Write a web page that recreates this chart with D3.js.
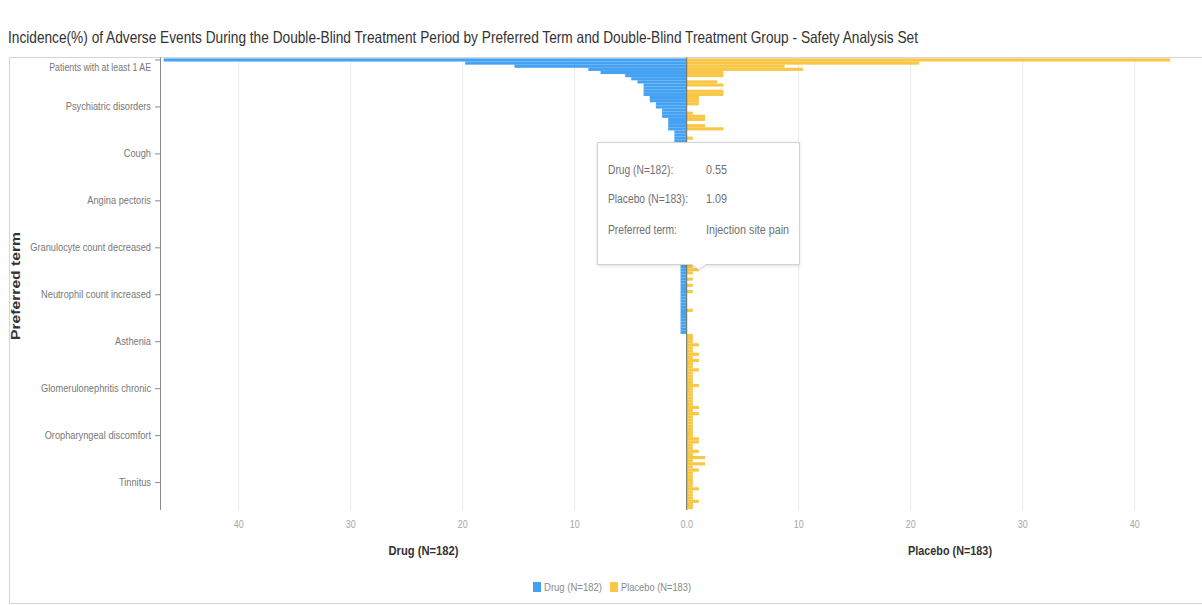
<!DOCTYPE html>
<html>
<head>
<meta charset="utf-8">
<script src="https://cdn.jsdelivr.net/npm/d3@7"></script>
<style>
  html, body { margin: 0; padding: 0; background: #fff; }
  svg { display: block; }
  text { font-family: "Liberation Sans Narrow", "Liberation Sans", Arial, sans-serif; }
</style>
</head>
<body>
<svg id="chart" width="1202" height="605"></svg>
<script>
// ---------------- DATA ----------------
const titleText = "Incidence(%) of Adverse Events During the Double-Blind Treatment Period by Preferred Term and Double-Blind Treatment Group - Safety Analysis Set";
const seriesNames = ["Drug (N=182)", "Placebo (N=183)"];

const categories = [
  "Patients with at least 1 AE","Upper respiratory tract infection","Anaemia","Hypertension","Diarrhoea",
  "Nasopharyngitis","Headache","Hyperkalaemia","Dizziness","Nausea",
  "Pyrexia","Peripheral swelling","Hypoglycaemia","Urinary tract infection","Back pain",
  "Psychiatric disorders","Insomnia","Constipation","Arthralgia","Fatigue",
  "Vomiting","Oedema peripheral","Pruritus","Rash","Abdominal pain",
  "Dyspepsia","Hyperuricaemia","Muscle spasms","Pain in extremity","Bronchitis",
  "Cough","Dyspnoea","Palpitations","Chest discomfort","Hypotension",
  "Blood creatinine increased","Proteinuria","Haematuria","Gastritis","Abdominal distension",
  "Decreased appetite","Influenza","Pneumonia","Sinusitis","Pharyngitis",
  "Angina pectoris","Atrial fibrillation","Tachycardia","Vertigo","Somnolence",
  "Anxiety","Depression","Myalgia","Neck pain","Musculoskeletal pain",
  "Hepatic function abnormal","Alanine aminotransferase increased","Aspartate aminotransferase increased","Gamma-glutamyltransferase increased","White blood cell count decreased",
  "Granulocyte count decreased","Platelet count decreased","Lymphocyte count decreased","Blood glucose increased","Blood pressure increased",
  "Contusion","Fall","Injection site pain","Injection site erythema","Dermatitis",
  "Eczema","Urticaria","Alopecia","Toothache","Stomatitis",
  "Neutrophil count increased","Haemoglobin decreased","Blood urea increased","Hyperlipidaemia","Hypercholesterolaemia",
  "Gout","Hyperphosphataemia","Hypocalcaemia","Renal impairment","Cystitis",
  "Conjunctivitis","Dry eye","Epistaxis","Rhinitis","Gastroenteritis",
  "Asthenia","Malaise","Chest pain","Feeling cold","Chills",
  "Thirst","Dry mouth","Flatulence","Haemorrhoids","Gastrooesophageal reflux disease",
  "Abdominal pain upper","Cholelithiasis","Fatty liver","Renal cyst","Nephrolithiasis",
  "Glomerulonephritis chronic","Pollakiuria","Nocturia","Dysuria","Prostatitis",
  "Herpes zoster","Oral herpes","Tinea pedis","Cellulitis","Paronychia",
  "Ligament sprain","Joint injury","Skin abrasion","Rhinorrhoea","Productive cough",
  "Oropharyngeal discomfort","Oropharyngeal pain","Sneezing","Asthma","Sleep disorder",
  "Restlessness","Hypoaesthesia","Paraesthesia","Tremor","Migraine",
  "Syncope","Cerebral infarction","Eye pruritus","Cataract","Ear pruritus",
  "Tinnitus","Hypoacusis","Sinus bradycardia","Ventricular extrasystoles","Supraventricular extrasystoles",
  "Arrhythmia","Varicose vein","Haematoma","Peripheral coldness"
];

const drugValues = [
  46.70, 19.78, 15.38, 8.79, 7.69, 5.49, 4.95, 4.40, 3.85, 3.85,
  3.85, 3.85, 3.30, 3.30, 2.75, 2.75, 2.20, 2.20, 2.20, 1.65,
  1.65, 1.65, 1.65, 1.10, 1.10, 1.10, 1.10, 1.10, 1.10, 1.10,
  1.10, 1.10, 1.10, 1.10, 1.10, 1.10, 0.55, 0.55, 0.55, 0.55,
  0.55, 0.55, 0.55, 0.55, 0.55, 0.55, 0.55, 0.55, 0.55, 0.55,
  0.55, 0.55, 0.55, 0.55, 0.55, 0.55, 0.55, 0.55, 0.55, 0.55,
  0.55, 0.55, 0.55, 0.55, 0.55, 0.55, 0.55, 0.55, 0.55, 0.55,
  0.55, 0.55, 0.55, 0.55, 0.55, 0.55, 0.55, 0.55, 0.55, 0.55,
  0.55, 0.55, 0.55, 0.55, 0.55, 0.55, 0.55, 0.55, 0, 0,
  0, 0, 0, 0, 0, 0, 0, 0, 0, 0,
  0, 0, 0, 0, 0, 0, 0, 0, 0, 0,
  0, 0, 0, 0, 0, 0, 0, 0, 0, 0,
  0, 0, 0, 0, 0, 0, 0, 0, 0, 0,
  0, 0, 0, 0, 0, 0, 0, 0, 0, 0,
  0, 0, 0, 0
];

const placeboValues = [
  43.17, 20.77, 8.74, 10.38, 3.28, 3.28, 0, 2.73, 3.28, 0,
  3.28, 3.28, 1.09, 1.09, 1.09, 0, 0, 0.55, 1.64, 1.64,
  0, 1.64, 3.28, 0, 0, 0.55, 0, 0.55, 1.09, 0,
  0.55, 0, 1.09, 0.55, 0, 0.55, 0, 0.55, 0, 1.09,
  0, 0.55, 0, 0, 0.55, 0.55, 0, 0, 0.55, 0,
  1.09, 0, 0, 0.55, 0, 0, 0.55, 0, 0, 0.55,
  0, 0.55, 0, 0, 0.55, 1.64, 0.55, 1.09, 0.55, 0,
  0.55, 0, 0.55, 0, 0.55, 0, 0, 0, 0, 0,
  0.55, 0, 0, 0, 0, 0, 0, 0, 0.55, 0.55,
  0.55, 1.09, 0.55, 0.55, 1.09, 0.55, 1.09, 0.55, 0.55, 1.09,
  0.55, 0.55, 0.55, 0.55, 1.09, 0.55, 0.55, 0.55, 0.55, 0.55,
  0.55, 1.09, 0.55, 1.09, 0.55, 0.55, 0.55, 0.55, 0.55, 0.55,
  0.55, 1.09, 1.09, 0.55, 0.55, 1.09, 0.55, 1.64, 0.55, 1.64,
  0.55, 1.09, 0.55, 0.55, 0.55, 0.55, 0.55, 1.09, 0.55, 0.55,
  0.55, 1.09, 0.55, 0.55
];

const yTickLabels = [
  "Patients with at least 1 AE","Psychiatric disorders","Cough","Angina pectoris",
  "Granulocyte count decreased","Neutrophil count increased","Asthenia",
  "Glomerulonephritis chronic","Oropharyngeal discomfort","Tinnitus"
];
const xTickValues = [0, 10, 20, 30, 40];
const xMax = 47;
const tooltipTerm = "Injection site pain";

// ---------------- CHART ----------------
const svg = d3.select("#chart");
const colors = { drug: "#45a2f2", placebo: "#f8c745" };

// condense text (no narrow font installed)
function condense(sel, factor) {
  sel.each(function () {
    const len = this.getComputedTextLength();
    d3.select(this).attr("textLength", len * factor).attr("lengthAdjust", "spacingAndGlyphs");
  });
}

const plotTop = 57.5, plotBottom = 510;
const xZero = 686.7;
const xLeft = d3.scaleLinear().domain([0, xMax]).range([xZero, 160.3]);
const xRight = d3.scaleLinear().domain([0, xMax]).range([xZero, xZero + (xZero - 160.3)]);
const y = d3.scaleBand().domain(categories).range([58.4, 509.2]).paddingInner(0);

// title
svg.append("text")
  .attr("x", 8).attr("y", 43)
  .attr("font-size", 16.5).attr("fill", "#333")
  .attr("textLength", 910).attr("lengthAdjust", "spacingAndGlyphs")
  .text(titleText);

// frame
svg.append("rect")
  .attr("x", 9.5).attr("y", plotTop).attr("width", 1210).attr("height", 546)
  .attr("fill", "none").attr("stroke", "#d4d4d4");

// gridlines
const gridG = svg.append("g");
xTickValues.filter(v => v > 0).forEach(v => {
  [xLeft(v), xRight(v)].forEach(px => {
    gridG.append("line")
      .attr("x1", px).attr("x2", px).attr("y1", plotTop).attr("y2", plotBottom)
      .attr("stroke", "#e9e9e9");
  });
});

// bars
const rows = categories.map((c, i) => ({ term: c, drug: drugValues[i], placebo: placeboValues[i] }));
const barsG = svg.append("g");
barsG.selectAll("rect.drug").data(rows.filter(d => d.drug > 0)).join("rect")
  .attr("class", "drug")
  .attr("x", d => xLeft(d.drug))
  .attr("y", d => y(d.term))
  .attr("width", d => xZero - xLeft(d.drug))
  .attr("height", y.bandwidth())
  .attr("fill", colors.drug);
barsG.selectAll("rect.placebo").data(rows.filter(d => d.placebo > 0)).join("rect")
  .attr("class", "placebo")
  .attr("x", xZero)
  .attr("y", d => y(d.term))
  .attr("width", d => xRight(d.placebo) - xZero)
  .attr("height", y.bandwidth())
  .attr("fill", colors.placebo);

// zero line
svg.append("line")
  .attr("x1", xZero).attr("x2", xZero).attr("y1", plotTop).attr("y2", plotBottom)
  .attr("stroke", "#6b6b5a").attr("stroke-width", 1);

// y axis
const yAxis = d3.axisLeft(y).tickValues(yTickLabels).tickSize(5).tickPadding(4);
const yG = svg.append("g").attr("transform", "translate(160,0)").call(yAxis);
yG.select(".domain").attr("stroke", "#8a8a8a").attr("d", `M0.5,${plotTop}V${plotBottom}`);
yG.selectAll(".tick line").attr("stroke", "#8a8a8a");
yG.selectAll(".tick text").attr("font-size", 10.5).attr("fill", "#777")
  .attr("font-family", "'Liberation Sans Narrow', 'Liberation Sans', sans-serif");
yG.selectAll(".tick").filter(d => d === categories[0]).select("text")
  .attr("dy", "1.1em").attr("font-size", 10);
condense(yG.selectAll(".tick text"), 0.88);

// x axis tick labels (both sides)
const xLabG = svg.append("g");
xTickValues.forEach(v => {
  if (v === 0) {
    xLabG.append("text").attr("x", xZero).attr("y", 528).attr("text-anchor", "middle")
      .attr("font-size", 10).attr("fill", "#a5a5a5").text(d3.format(".1f")(v));
  } else {
    xLabG.append("text").attr("x", xLeft(v)).attr("y", 528).attr("text-anchor", "middle")
      .attr("font-size", 10).attr("fill", "#a5a5a5").text(v);
    xLabG.append("text").attr("x", xRight(v)).attr("y", 528).attr("text-anchor", "middle")
      .attr("font-size", 10).attr("fill", "#a5a5a5").text(v);
  }
});
condense(xLabG.selectAll("text"), 0.9);

// axis titles
svg.append("text").attr("x", (xLeft(0) + xLeft(xMax)) / 2).attr("y", 555)
  .attr("text-anchor", "middle").attr("font-weight", "bold").attr("font-size", 13)
  .attr("fill", "#333").attr("textLength", 70).attr("lengthAdjust", "spacingAndGlyphs")
  .text(seriesNames[0]);
svg.append("text").attr("x", 950).attr("y", 555)
  .attr("text-anchor", "middle").attr("font-weight", "bold").attr("font-size", 13)
  .attr("fill", "#333").attr("textLength", 84).attr("lengthAdjust", "spacingAndGlyphs")
  .text(seriesNames[1]);
svg.append("text")
  .attr("transform", "translate(20,286) rotate(-90)")
  .attr("text-anchor", "middle").attr("font-weight", "bold").attr("font-size", 12)
  .attr("font-family", "'Liberation Sans', Arial, sans-serif")
  .attr("fill", "#333").attr("textLength", 108).attr("lengthAdjust", "spacingAndGlyphs")
  .text("Preferred term");

// legend
const legG = svg.append("g");
legG.append("rect").attr("x", 533).attr("y", 582).attr("width", 8).attr("height", 10).attr("fill", colors.drug);
legG.append("text").attr("x", 544).attr("y", 591).attr("font-size", 10).attr("fill", "#8a8a8a")
  .attr("textLength", 58).attr("lengthAdjust", "spacingAndGlyphs").text(seriesNames[0]);
legG.append("rect").attr("x", 610).attr("y", 582).attr("width", 8).attr("height", 10).attr("fill", colors.placebo);
legG.append("text").attr("x", 621).attr("y", 591).attr("font-size", 10).attr("fill", "#8a8a8a")
  .attr("textLength", 70).attr("lengthAdjust", "spacingAndGlyphs").text(seriesNames[1]);

// tooltip
const ti = categories.indexOf(tooltipTerm);
const tipX = xRight(placeboValues[ti]);
const tipY = y(tooltipTerm) + y.bandwidth() / 2;
const tip = svg.append("g");
const bx = 597.5, by = 142.5, bw = 202, bh = 122;
const defs = svg.append("defs");
const f = defs.append("filter").attr("id", "sh").attr("x", "-10%").attr("y", "-10%").attr("width", "120%").attr("height", "130%");
f.append("feDropShadow").attr("dx", 0).attr("dy", 1).attr("stdDeviation", 1.5).attr("flood-color", "#000").attr("flood-opacity", 0.12);
tip.append("path")
  .attr("d", `M${bx},${by}H${bx + bw}V${by + bh}H${tipX + 7}L${tipX},${tipY}L${tipX - 7},${by + bh}H${bx}Z`)
  .attr("fill", "#fff").attr("stroke", "#d2d2d2").attr("filter", "url(#sh)");
const tipRows = [
  [seriesNames[0] + ":", d3.format(".2f")(drugValues[ti]), 174],
  [seriesNames[1] + ":", d3.format(".2f")(placeboValues[ti]), 203],
  ["Preferred term:", tooltipTerm, 234]
];
tipRows.forEach(r => {
  tip.append("text").attr("class", "tl").attr("x", 608).attr("y", r[2]).attr("font-size", 12.5).attr("fill", "#707070").text(r[0]);
  tip.append("text").attr("class", "tv").attr("x", 706).attr("y", r[2]).attr("font-size", 12.5).attr("fill", "#707070").text(r[1]);
});
condense(tip.selectAll("text.tl"), 0.82);
condense(tip.selectAll("text.tv"), 0.86);
</script>
</body>
</html>
